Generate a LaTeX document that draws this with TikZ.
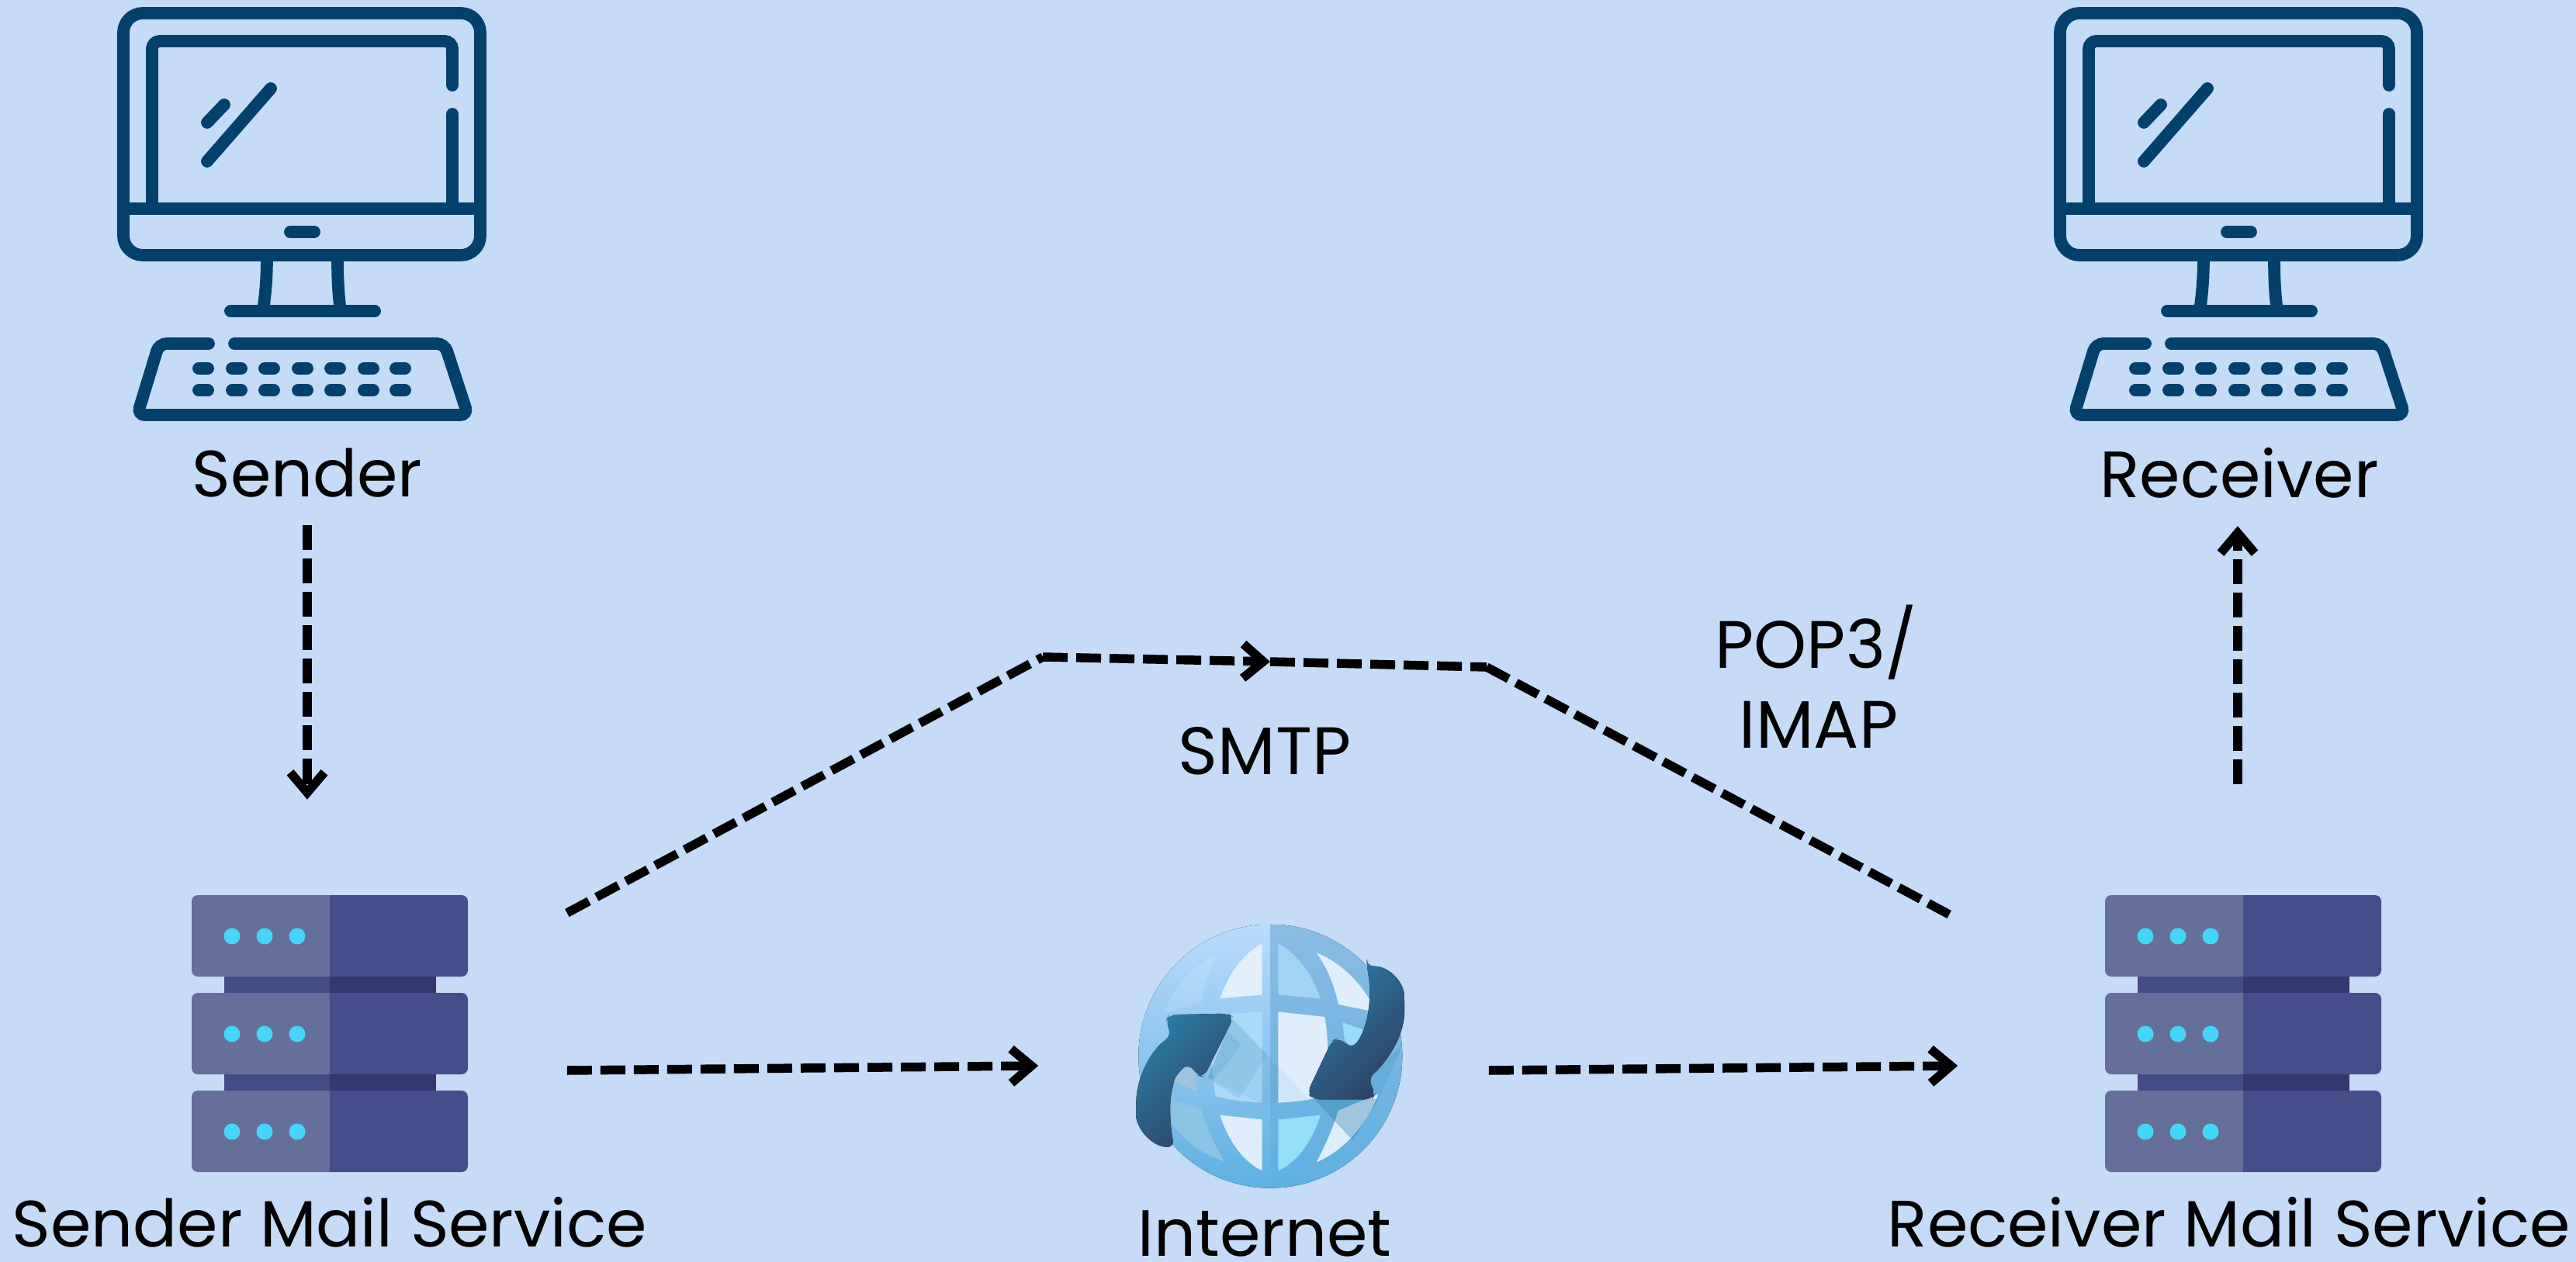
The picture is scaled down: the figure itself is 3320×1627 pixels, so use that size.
\documentclass[tikz,border=0pt]{standalone}
\usepackage{fontspec}
\setmainfont{Poppins}
\usetikzlibrary{calc,positioning,arrows.meta}

\definecolor{page_bg}{HTML}{C5DBF6}
\definecolor{pc_blue}{HTML}{03416C}
\definecolor{srv_light}{HTML}{666F99}
\definecolor{srv_dark}{HTML}{454E8A}
\definecolor{srv_neck}{HTML}{444C88}
\definecolor{srv_shade}{HTML}{343770}
\definecolor{srv_led}{HTML}{45D5F8}
\definecolor{arrow_top}{HTML}{2A7CA4}
\definecolor{arrow_low}{HTML}{2F4065}
\definecolor{globe_top}{HTML}{BADBFC}
\definecolor{globe_mid}{HTML}{8ABCE3}
\definecolor{globe_low}{HTML}{5EB0E2}
\definecolor{cell_white}{HTML}{E4EFFD}
\definecolor{cell_sky}{HTML}{95DDF8}
\definecolor{cell_mid}{HTML}{A8DAFA}
\definecolor{cell_soft}{HTML}{8AC5E6}

\tikzset{
  label_txt/.style={font=\fontsize{24}{29}\selectfont,inner sep=0pt,text=black},
  proto_txt/.style={font=\fontsize{24.6}{29}\selectfont,inner sep=0pt,text=black},
  pc_line/.style={draw=pc_blue,line width=.158cm,line cap=round},
  dash_line/.style={draw=black,line width=.115cm,dash pattern=on .32cm off .11cm},
  dash_tip/.style={dash_line,-{Straight Barb[length=.26cm,width=.44cm]}},
  globe_arrow/.style={top color=arrow_top,bottom color=arrow_low,shading angle=45,rounded corners=.09cm},
}

\begin{document}
\begin{tikzpicture}[x=.01cm,y=-.01cm]

  \useasboundingbox[fill=page_bg] (0,0) rectangle (3320,1627);

  %% the two computers
  \foreach \dx in {0,2496}
           {
             \begin{scope}[shift={(\dx,0)}]
               \draw[pc_line,rounded corners=.25cm] (159,17) rectangle (619,329);
               \draw[pc_line] (159,269) -- (619,269);
               \draw[pc_line,rounded corners=.1cm] (196,269) -- (196,53) -- (583,53) -- (583,110);
               \draw[pc_line] (583,147) -- (583,269);
               \draw[pc_line] (267,208) -- (349,114);
               \draw[pc_line] (267,158) -- (289,135);
               \draw[pc_line] (374,299) -- (405,299);
               \draw[pc_line] (344,329) .. controls (344,360) and (342,380) .. (339,401);
               \draw[pc_line] (435,329) .. controls (435,360) and (436,380) .. (439,401);
               \draw[pc_line] (297,401) -- (483,401);
               \draw[pc_line,rounded corners=.1cm] (269,443) -- (205,443) -- (177,535) -- (603,535) -- (573,443) -- (302,443);

               \foreach \kx in {262,305,347,390,432,475,516}
                        {
                          \foreach \ky in {475,503}
                                   {
                                     \draw[pc_line] (\kx-6,\ky) -- (\kx+6,\ky);
                                   }
                        }
             \end{scope}
           }

  %% the two mail servers
  \foreach \dx in {0,2466}
           {
             \begin{scope}[shift={(\dx,0)}]
               \fill[srv_neck] (289,1259) rectangle (425,1406);
               \fill[srv_shade] (425,1259) rectangle (562,1406);

               \foreach \y in {1154,1280,1406}
                        {
                          \fill[srv_light,rounded corners=.08cm] (425,\y) -- (247,\y) -- (247,\y+105) -- (425,\y+105);
                          \fill[srv_dark,rounded corners=.08cm] (425,\y) -- (603,\y) -- (603,\y+105) -- (425,\y+105);

                          \foreach \x in {299,341,383}
                                   {
                                     \fill[srv_led] (\x,\y+53) circle (10.5);
                                   }
                        }
             \end{scope}
           }

  \node (mail_sender) [minimum width=3.56cm,minimum height=3.57cm,inner sep=0pt] at(425,1332) {};
  \node (mail_receiver) [minimum width=3.56cm,minimum height=3.57cm,inner sep=0pt] at(2891,1332) {};
  \node (internet) [minimum width=3.4cm,minimum height=3.4cm,inner sep=0pt] at(1637,1362) {};

  %% globe, coordinates below are three times the pixel distance
  \begin{scope}[shift={(1400,1160)},scale=.3333]
    \begin{scope}
      \clip (712,605) circle (510);
      \fill[top color=globe_top,bottom color=globe_low] (200,95) rectangle (712,1115);
      \fill[top color=globe_mid,bottom color=globe_low] (712,95) rectangle (1225,1115);

      \fill[white,opacity=.12] (480,225) .. controls (400,270) and (340,340) .. (300,440) -- (445,400) .. controls (455,340) and (470,280) .. (505,210) -- cycle;
      \fill[cell_white] (680,170) .. controls (600,210) and (545,300) .. (517,382) -- (680,367) -- cycle;
      \fill[cell_mid!80!globe_mid] (742,170) .. controls (820,210) and (880,300) .. (905,382) -- (742,367) -- cycle;
      \fill[cell_white!90!globe_top] (890,205) .. controls (980,240) and (1060,320) .. (1100,395) -- (1100,430) -- (975,405) .. controls (960,330) and (930,260) .. (890,205) -- cycle;

      \fill[cell_mid] (680,433) -- (490,445) .. controls (480,550) and (485,680) .. (500,760) .. controls (560,775) and (620,782) .. (680,785) -- cycle;
      \fill[cell_white!90!globe_top] (742,433) -- (922,453) .. controls (940,550) and (935,680) .. (918,760) .. controls (860,775) and (800,782) .. (742,785) -- cycle;
      \fill[cell_sky] (992,475) -- (1110,515) -- (1030,575) -- (998,540) -- cycle;
      \fill[cell_mid!75!gray] (330,700) -- (410,620) -- (430,742) -- cycle;

      \fill[cell_white!90!globe_top] (517,833) -- (680,850) -- (680,1048) .. controls (600,1010) and (545,920) .. (517,833) -- cycle;
      \fill[cell_sky] (742,850) -- (905,833) .. controls (880,920) and (825,1010) .. (742,1048) -- cycle;
      \fill[cell_white!90!globe_top] (975,815) -- (1130,750) .. controls (1090,860) and (1000,970) .. (890,1015) .. controls (925,950) and (955,880) .. (975,815) -- cycle;
      \fill[cell_soft] (330,770) -- (445,810) .. controls (465,880) and (495,950) .. (535,1012) .. controls (450,985) and (370,930) .. (330,860) -- cycle;

      %% shadows behind the arrows
      \fill[arrow_top,opacity=.08] (565,460) -- (860,770) -- (680,790) -- (470,690) -- cycle;
      \fill[arrow_top,opacity=.12] (565,460) -- (700,600) -- (590,770) -- (470,690) -- cycle;
      \fill[arrow_top,opacity=.12] (540,500) -- (600,560) -- (500,690) -- (470,690) -- cycle;
      \fill[arrow_top,opacity=.35] (880,770) -- (1030,930) -- (1130,770) -- cycle;
      \fill[arrow_top,opacity=.15] (1130,770) -- (1225,560) -- (1090,690) -- cycle;
    \end{scope}

    \fill[globe_arrow] (330,525) .. controls (240,590) and (195,700) .. (193,800) .. controls (190,880) and (250,955) .. (340,957) .. controls (325,880) and (320,790) .. (335,720) .. controls (345,680) and (375,650) .. (400,635) -- (430,680) -- (455,685) -- (570,455) -- (545,440) -- (320,445) -- (308,470) -- cycle;
    \fill[globe_arrow] (1085,258) .. controls (1170,255) and (1230,320) .. (1230,400) .. controls (1232,520) and (1170,620) .. (1090,692) -- (1118,750) -- (1105,772) -- (875,772) -- (855,745) -- (950,545) -- (975,535) -- (1028,575) .. controls (1080,510) and (1110,400) .. (1085,258) -- cycle;
  \end{scope}

  %% labels
  \node (sender) [label_txt] at(396,610) {Sender};
  \node (receiver) [label_txt] at(2886,610) {Receiver};
  \node (sender_txt) [label_txt] at(425,1576) {Sender Mail Service};
  \node (receiver_txt) [label_txt] at(2873,1576) {Receiver Mail Service};
  \node (internet_txt) [label_txt] at(1630,1590) {Internet};
  \node (smtp) [proto_txt] at(1630,968) {SMTP};
  \node (pop) [proto_txt] at(2341,828) {POP3/};
  \node (imap) [proto_txt] at(2344,934) {IMAP};

  %% connectors
  \coordinate (smtp_a) at(1344,847);
  \coordinate (smtp_b) at(1637,853);
  \coordinate (smtp_c) at(1916,860);

  \draw[dash_tip] ($(sender.south)+(0,35)$) -- ($(mail_sender.north)+(-29,-122)$);
  \draw[dash_line] ($(mail_sender.east)+(127,-155)$) -- (smtp_a);
  \draw[dash_tip] (smtp_a) -- (smtp_b);
  \draw[dash_line] (smtp_b) -- (smtp_c);
  \draw[dash_line] (smtp_c) -- ($(mail_receiver.west)+(-200,-153)$);
  \draw[dash_tip] ($(mail_sender.east)+(127,48)$) -- ($(internet.west)+(-128,12)$);
  \draw[dash_tip] ($(internet.east)+(111,18)$) -- ($(mail_receiver.west)+(-189,42)$);
  \draw[dash_tip] ($(mail_receiver.north)+(-7,-142)$) -- ($(receiver.south)+(-2,35)$);

\end{tikzpicture}
\end{document}
